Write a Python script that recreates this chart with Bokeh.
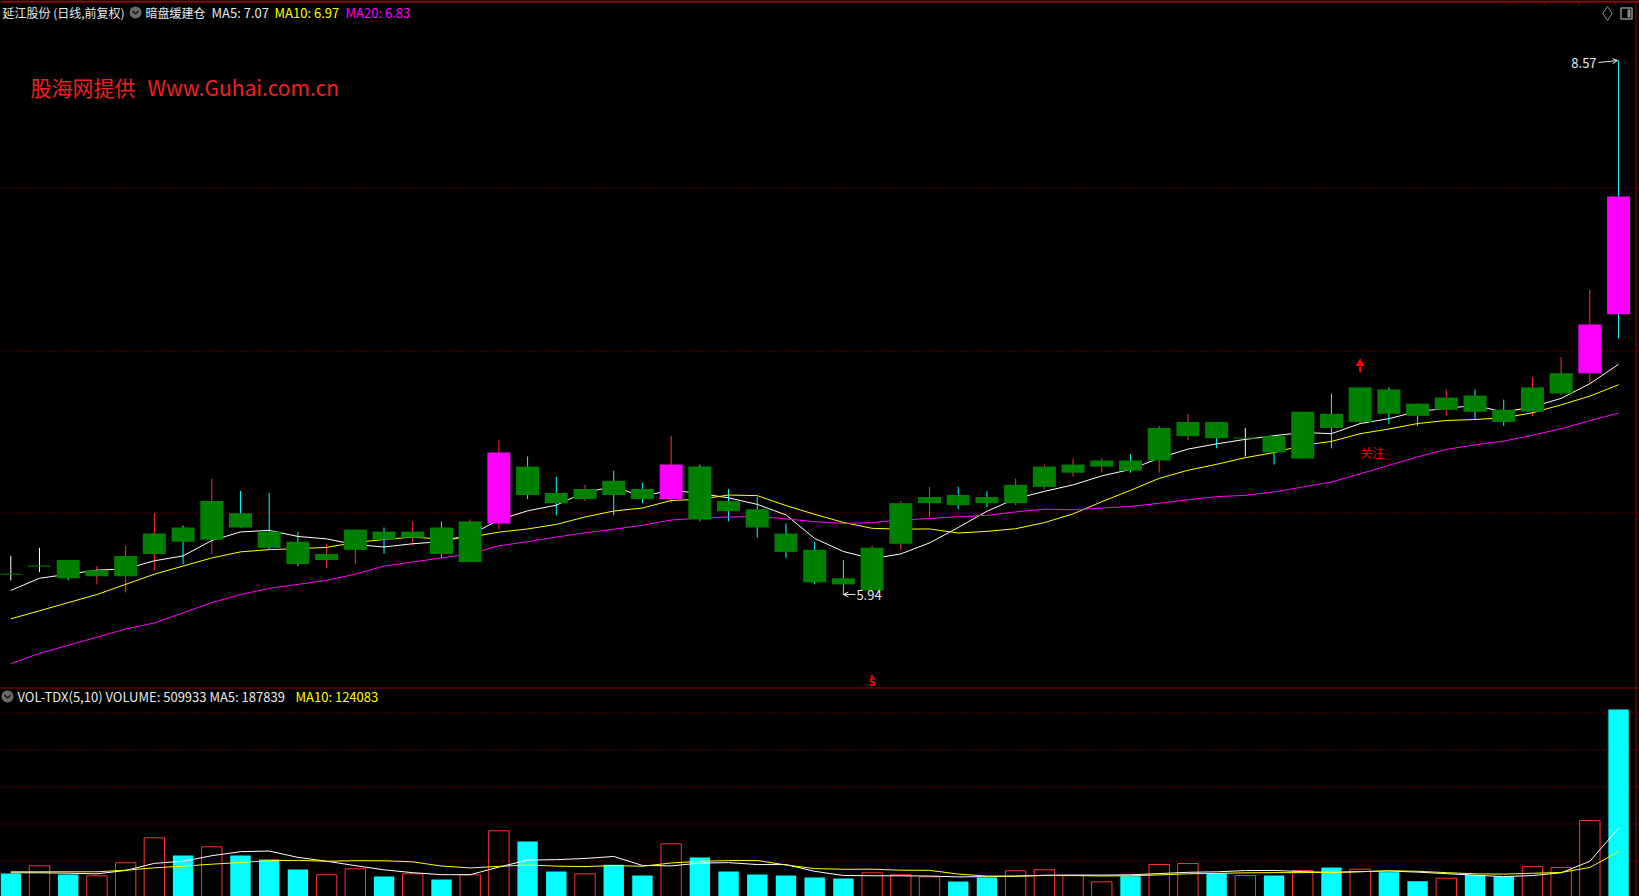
import numpy as np
import pandas as pd
from bokeh.plotting import figure
from bokeh.models import Range1d, Label, Span, Arrow, OpenHead, GlobalInlineStyleSheet
from bokeh.embed import file_html
from bokeh.resources import INLINE

# ---------------- data ----------------
stock_title = "延江股份 (日线,前复权)"
indicator_name = "暗盘缓建仓"
watermark_cn = "股海网提供"
watermark_url = "Www.Guhai.com.cn"

opens = [6.04, 6.08, 6.11, 6.03, 6.03, 6.14, 6.27, 6.21, 6.34, 6.25,
         6.20, 6.11, 6.16, 6.25, 6.22, 6.27, 6.10, 6.29, 6.57, 6.44,
         6.41, 6.50, 6.46, 6.41, 6.57, 6.40, 6.36, 6.24, 6.16, 6.02,
         5.96, 6.19, 6.39, 6.43, 6.42, 6.39, 6.47, 6.54, 6.57, 6.60,
         6.60, 6.72, 6.79, 6.71, 6.72, 6.61, 6.83, 6.79, 6.95, 6.88,
         6.85, 6.92, 6.85, 6.84, 6.93, 7.03, 7.90]
highs = [6.13, 6.17, 6.11, 6.08, 6.18, 6.34, 6.28, 6.51, 6.45, 6.44,
         6.25, 6.19, 6.26, 6.27, 6.30, 6.30, 6.31, 6.70, 6.62, 6.52,
         6.48, 6.55, 6.49, 6.72, 6.58, 6.46, 6.42, 6.29, 6.20, 6.11,
         6.18, 6.40, 6.47, 6.47, 6.45, 6.51, 6.58, 6.61, 6.61, 6.63,
         6.77, 6.83, 6.79, 6.76, 6.72, 6.84, 6.93, 6.96, 6.96, 6.88,
         6.95, 6.95, 6.90, 7.01, 7.11, 7.44, 8.57]
lows = [6.01, 6.05, 6.01, 5.99, 5.95, 6.06, 6.09, 6.14, 6.27, 6.16,
        6.08, 6.07, 6.09, 6.14, 6.18, 6.12, 6.10, 6.26, 6.41, 6.33,
        6.40, 6.33, 6.39, 6.39, 6.30, 6.30, 6.22, 6.12, 5.99, 5.94,
        5.96, 6.16, 6.32, 6.36, 6.37, 6.38, 6.46, 6.52, 6.54, 6.54,
        6.54, 6.70, 6.66, 6.62, 6.58, 6.61, 6.66, 6.78, 6.78, 6.77,
        6.82, 6.80, 6.77, 6.82, 6.92, 6.98, 7.20]
closes = [6.04, 6.08, 6.02, 6.06, 6.13, 6.24, 6.20, 6.40, 6.27, 6.17,
          6.09, 6.14, 6.26, 6.21, 6.25, 6.14, 6.30, 6.64, 6.43, 6.39,
          6.46, 6.43, 6.41, 6.58, 6.31, 6.35, 6.27, 6.15, 6.00, 5.99,
          6.17, 6.39, 6.42, 6.38, 6.39, 6.48, 6.57, 6.58, 6.60, 6.55,
          6.76, 6.79, 6.71, 6.71, 6.64, 6.84, 6.76, 6.96, 6.83, 6.82,
          6.91, 6.84, 6.79, 6.96, 7.03, 7.27, 7.32]
up_day = [0, 1, 0, 1, 1, 1, 0, 1, 0, 0,
          0, 1, 1, 0, 1, 0, 1, 1, 0, 0,
          1, 0, 0, 1, 0, 0, 0, 0, 0, 0,
          1, 1, 1, 0, 0, 1, 1, 1, 1, 0,
          1, 1, 0, 1, 0, 1, 0, 1, 0, 0,
          1, 0, 0, 1, 1, 1, 0]
volumes = [64900, 85700, 62100, 58600, 93900, 161700, 113700, 137300, 113700, 102800,
           75700, 61300, 77600, 56700, 64000, 48600, 61300, 180700, 151700, 70300,
           64000, 88500, 59400, 145400, 108300, 70300, 62100, 59400, 54000, 51300,
           66800, 61300, 55900, 43100, 54000, 72200, 74900, 59400, 42300, 57500,
           89300, 92000, 65700, 59400, 59400, 73000, 81100, 76500, 68400, 44000,
           52000, 60735, 56500, 83500, 80900, 208362, 509933]
strong_days = [17, 23, 55, 56]          # magenta bodies
focus_day = 47                          # red arrow + 关注
sell_mark_day = 30                      # small red S

# moving-average values before a full window exists
ma5_head = [5.96, 6.02, 6.04, 6.06]
ma10_head = [5.82, 5.86, 5.90, 5.94, 5.99, 6.04, 6.08, 6.12, 6.15]
ma20_head = [5.60, 5.65, 5.69, 5.73, 5.77, 5.80, 5.85, 5.90, 5.94, 5.97,
             5.99, 6.01, 6.04, 6.08, 6.10, 6.12, 6.14, 6.18, 6.20]
vma5_head = [66800, 66800, 65700, 64000]
vma10_head = [69500, 69500, 69500, 69500, 73800, 80300, 84700, 90100, 94700]

price_grid = [6.34, 7.14, 7.94]
vol_grid = [100000, 200000, 300000, 400000, 500000]

# ---------------- layout / styling ----------------
W, H = 1639, 896
X0, DX = 10.3, 28.71                 # first candle centre, candle spacing (px)
P_TOP, P_PER_PX = 8.8655, 0.004925   # price at top edge, price per px
V_BASE_PX, V_PER_PX = 896.9, 2713.5  # volume zero line (px), volume per px
PANE_SPLIT = 687

RED = "#FF3232"
CYAN = "#00FFFF"
GREEN = "#008000"
MAG = "#FF00FF"
GRID = "#9A0000"
CJK = "Noto Sans CJK SC"


def xd(px):
    return (px - X0) / DX


def yd(py):
    return P_TOP - P_PER_PX * py


def snap_price(g):
    py = (P_TOP - g) / P_PER_PX
    return yd(np.floor(py) + 0.5)


def snap_vol(g):
    py = V_BASE_PX - g / V_PER_PX
    return (V_BASE_PX - (np.floor(py) + 0.5)) * V_PER_PX


def moving_average(vals, n, head):
    out = pd.Series(vals, dtype=float).rolling(n).mean().to_numpy()
    out[:n - 1] = head
    return out


o = np.array(opens)
h = np.array(highs)
l = np.array(lows)
c = np.array(closes)
up = np.array(up_day, dtype=bool)
vol = np.array(volumes, dtype=float)
n = len(c)
idx = np.arange(n)

ma5 = moving_average(c, 5, ma5_head)
ma10 = moving_average(c, 10, ma10_head)
ma20 = moving_average(c, 20, ma20_head)
vma5 = moving_average(vol, 5, vma5_head)
vma10 = moving_average(vol, 10, vma10_head)

css = GlobalInlineStyleSheet(css="html,body{margin:0 !important;padding:0;background:#000;overflow:hidden;}")

p = figure(width=W, height=H,
           x_range=Range1d(xd(0), xd(W)), y_range=Range1d(yd(H), yd(0)),
           x_axis_type=None, y_axis_type=None,
           toolbar_location=None, output_backend="svg",
           background_fill_color="black", border_fill_color="black",
           outline_line_color=None, min_border=0, stylesheets=[css])
p.extra_y_ranges = {"vol": Range1d((V_BASE_PX - H) * V_PER_PX, V_BASE_PX * V_PER_PX)}

# grid lines
for g in price_grid:
    p.add_layout(Span(location=snap_price(g), dimension="width", line_color=GRID,
                      line_dash="1 2", line_width=1, level="underlay"))
for g in vol_grid:
    p.add_layout(Span(location=snap_vol(g), dimension="width", line_color=GRID,
                      line_dash="1 2", line_width=1, level="underlay", y_range_name="vol"))
p.add_layout(Span(location=yd(PANE_SPLIT + 0.5), dimension="width", line_color="#9A0000", line_width=1))
p.add_layout(Span(location=yd(1), dimension="width", line_color="#A00000", line_width=2))
p.add_layout(Span(location=xd(1635.5), dimension="height", line_color="#A00000", line_width=1))
# small ticks under the top border
p.segment(x0=[xd(t) for t in (1509.5, 1544.5, 1578.5, 1614.5)], y0=yd(1),
          x1=[xd(t) for t in (1509.5, 1544.5, 1578.5, 1614.5)], y1=yd(4),
          line_color="#A00000", line_width=1)

# ---------------- volume pane ----------------
VW = 0.355
upi = idx[up]
dni = idx[~up]
p.quad(left=dni - VW, right=dni + VW, bottom=0, top=vol[~up], y_range_name="vol",
       fill_color=CYAN, line_color=None)
p.quad(left=upi - VW, right=upi + VW, bottom=0, top=vol[up], y_range_name="vol",
       fill_color=None, line_color=RED, line_width=1)
p.line(idx, vma5, y_range_name="vol", line_color="white", line_width=1)
p.line(idx, vma10, y_range_name="vol", line_color="#FFFF00", line_width=1)

# ---------------- price pane ----------------
doji = o == c
wick_col = np.where(doji, "#FFFFFF", np.where(up, RED, CYAN))
p.segment(x0=idx, y0=l, x1=idx, y1=h, line_color=list(wick_col), line_width=1)

p.line(idx, ma5, line_color="white", line_width=1)
p.line(idx, ma10, line_color="#FFFF00", line_width=1)
p.line(idx, ma20, line_color=MAG, line_width=1)

BW = 0.4
body_col = np.array([MAG if i in strong_days else GREEN for i in idx])
nb = ~doji
p.quad(left=idx[nb] - BW, right=idx[nb] + BW,
       top=np.maximum(o, c)[nb], bottom=np.minimum(o, c)[nb],
       fill_color=list(body_col[nb]), line_color=None)
p.segment(x0=idx[doji] - BW, y0=o[doji], x1=idx[doji] + BW, y1=o[doji],
          line_color=GREEN, line_width=1)

# focus arrow and text
fx = focus_day
p.segment(x0=[fx], y0=[h[fx] + 15 * P_PER_PX], x1=[fx], y1=[h[fx] + 21 * P_PER_PX],
          line_color="#FF0000", line_width=2)
p.scatter(x=[fx], y=[h[fx] + 24 * P_PER_PX], marker="triangle", size=9,
          fill_color="#FF0000", line_color=None)
p.add_layout(Label(x=fx, y=l[fx] - 29 * P_PER_PX, text="关注", text_color="#E00000",
                   text_font=CJK, text_font_size="12px", text_align="left",
                   text_baseline="middle"))

# sell mark
p.scatter(x=[sell_mark_day], y=[yd(676)], marker="triangle", size=4,
          fill_color="#FF0000", line_color=None)
p.add_layout(Label(x=sell_mark_day, y=yd(682), text="S", text_color="#FF0000",
                   text_font="DejaVu Sans", text_font_style="bold", text_font_size="10px",
                   text_align="center", text_baseline="middle"))

# high / low labels
imax = int(np.argmax(h))
imin = int(np.argmin(l))
p.add_layout(Arrow(x_start=imax - 20 / DX, y_start=h[imax] - 2 * P_PER_PX,
                   x_end=imax - 1 / DX, y_end=h[imax],
                   end=OpenHead(size=5, line_color="#E8E8E8", line_width=1),
                   line_color="#E8E8E8", line_width=1))
p.add_layout(Label(x=imax - 22 / DX, y=h[imax] - 2 * P_PER_PX, text=f"{h[imax]:.2f}",
                   text_color="#E8E8E8", text_font=CJK, text_font_size="13px",
                   text_align="right", text_baseline="middle"))
p.add_layout(Arrow(x_start=imin + 12 / DX, y_start=l[imin], x_end=imin, y_end=l[imin],
                   end=OpenHead(size=5, line_color="#E8E8E8", line_width=1),
                   line_color="#E8E8E8", line_width=1))
p.add_layout(Label(x=imin + 13 / DX, y=l[imin], text=f"{l[imin]:.2f}",
                   text_color="#E8E8E8", text_font=CJK, text_font_size="13px",
                   text_align="left", text_baseline="middle"))


# ---------------- header texts ----------------
def label(txt, px, py, color, size="13px"):
    p.add_layout(Label(x=xd(px), y=yd(py), text=txt, text_color=color, text_font=CJK,
                       text_font_size=size, text_align="left", text_baseline="middle"))


def chevron_icon(px, py):
    p.scatter(x=[xd(px)], y=[yd(py)], marker="circle", size=12,
              fill_color="#6A6A6A", line_color=None)
    p.line(x=[xd(px - 3), xd(px), xd(px + 3)], y=[yd(py - 1.5), yd(py + 1.5), yd(py - 1.5)],
           line_color="#151515", line_width=1.5)


label(stock_title, 2, 12, "#EAEAEA", size="12px")
chevron_icon(135, 12)
label(indicator_name, 145, 12, "#EAEAEA", size="12px")
label(f"MA5: {ma5[-1]:.2f}", 211, 12, "#EAEAEA")
label(f"MA10: {ma10[-1]:.2f}", 274, 12, "#FFFF00")
label(f"MA20: {ma20[-1]:.2f}", 345, 12, MAG)

label(watermark_cn, 30, 86, "#F02020", size="21px")
label(watermark_url, 147, 86, "#F02020", size="21px")

chevron_icon(7, 696)
label(f"VOL-TDX(5,10)  VOLUME: {int(vol[-1])}  MA5: {vma5[-1]:.0f}", 17, 696, "#EAEAEA")
label(f"MA10: {vma10[-1]:.0f}", 295, 696, "#FFFF00")

# window icons (top right)
p.scatter(x=[xd(1607)], y=[yd(13)], marker="diamond", size=14,
          fill_color=None, line_color="#8C8C8C", line_width=1)
p.scatter(x=[xd(1626)], y=[yd(13)], marker="square", size=11,
          fill_color=None, line_color="#8C8C8C", line_width=1.5)
p.quad(left=[xd(1627)], right=[xd(1630)], top=[yd(9)], bottom=[yd(17)],
       fill_color="#8C8C8C", line_color=None)

open("out.html", "w").write(file_html(p, INLINE))
